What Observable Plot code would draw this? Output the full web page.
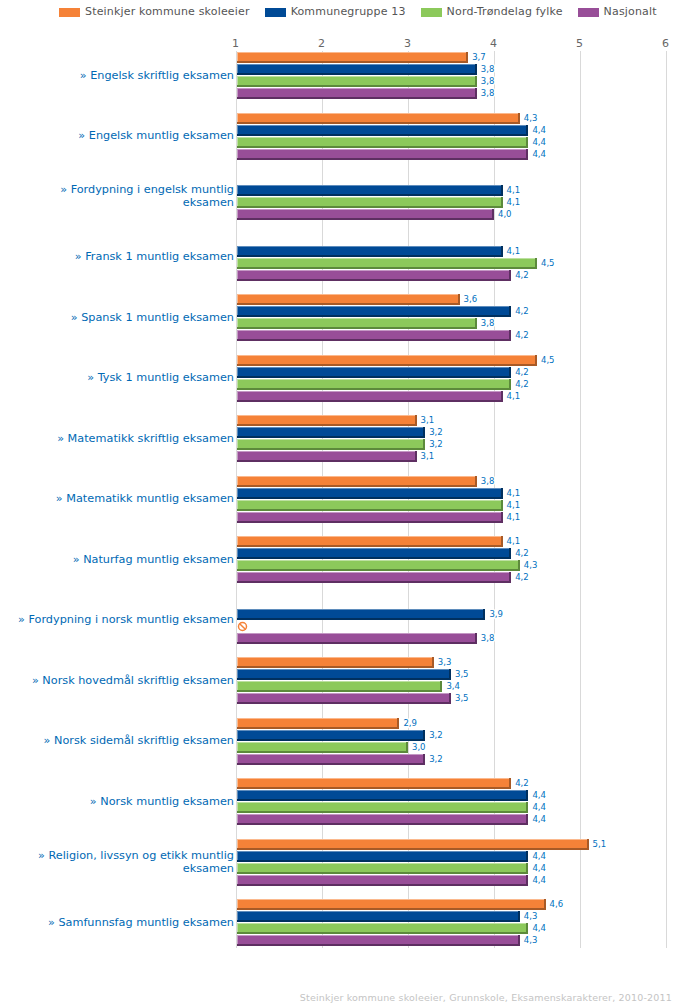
<!DOCTYPE html>
<html>
<head>
<meta charset="utf-8">
<script src="https://cdn.jsdelivr.net/npm/d3@7"></script>
<script src="https://cdn.jsdelivr.net/npm/@observablehq/plot@0.6"></script>
<style>
html,body{margin:0;padding:0;background:#fff;overflow:hidden}
#legend{height:30px;box-sizing:border-box;padding:5px 0 0 59px;display:flex;gap:15px;font:11px "DejaVu Sans",sans-serif;color:#555;line-height:14px;letter-spacing:.17px}
#legend .it{display:flex;align-items:center;gap:5px;white-space:nowrap;height:14px}
#legend i{display:block;width:21px;height:9px}
#cap{position:absolute;right:23px;top:992px;font:9.5px "DejaVu Sans",sans-serif;color:#c4c4c4;letter-spacing:.18px;white-space:nowrap}
svg{display:block}
</style>
</head>
<body>
<div id="legend"></div>
<div id="chart"></div>
<div id="cap"></div>
<script>
const categories = [
  "» Engelsk skriftlig eksamen",
  "» Engelsk muntlig eksamen",
  "» Fordypning i engelsk muntlig\neksamen",
  "» Fransk 1 muntlig eksamen",
  "» Spansk 1 muntlig eksamen",
  "» Tysk 1 muntlig eksamen",
  "» Matematikk skriftlig eksamen",
  "» Matematikk muntlig eksamen",
  "» Naturfag muntlig eksamen",
  "» Fordypning i norsk muntlig eksamen",
  "» Norsk hovedmål skriftlig eksamen",
  "» Norsk sidemål skriftlig eksamen",
  "» Norsk muntlig eksamen",
  "» Religion, livssyn og etikk muntlig\neksamen",
  "» Samfunnsfag muntlig eksamen"
];
const seriesNames = ["Steinkjer kommune skoleeier","Kommunegruppe 13","Nord-Trøndelag fylke","Nasjonalt"];
const steinkjer = [3.7,4.3,null,null,3.6,4.5,3.1,3.8,4.1,null,3.3,2.9,4.2,5.1,4.6];
const kommunegruppe = [3.8,4.4,4.1,4.1,4.2,4.2,3.2,4.1,4.2,3.9,3.5,3.2,4.4,4.4,4.3];
const fylke = [3.8,4.4,4.1,4.5,3.8,4.2,3.2,4.1,4.3,null,3.4,3.0,4.4,4.4,4.4];
const nasjonalt = [3.8,4.4,4.0,4.2,4.2,4.1,3.1,4.1,4.2,3.8,3.5,3.2,4.4,4.4,4.3];
const mainColors = ["#F58238","#004A96","#8CC95B","#984E98"];
const darkColors = ["#A85A26","#00305F","#5C8A3B","#5E2F62"];
const lightColors = ["#FBB98E","#5F8DBD","#BCE0A0","#C498C4"];
const xTicks = [1,2,3,4,5,6];
const noDataCells = [["» Fordypning i norsk muntlig eksamen","Nord-Trøndelag fylke"]];
const captionText = "Steinkjer kommune skoleeier, Grunnskole, Eksamenskarakterer, 2010-2011";

const seriesValues = [steinkjer,kommunegruppe,fylke,nasjonalt];
const rows = categories.flatMap((c,i)=>seriesNames.map((s,j)=>({cat:c,series:s,idx:j,value:seriesValues[j][i]}))).filter(d=>d.value!=null);
const noData = noDataCells.map(([cat,series])=>({cat,series}));
const gridRows = categories.flatMap(c=>xTicks.map(t=>({cat:c,tick:t})));
const lastCat = categories[categories.length-1];

d3.select("#legend").selectAll(".it").data(seriesNames).join("div").attr("class","it")
  .call(s=>s.append("i").style("background",(d,i)=>mainColors[i]))
  .call(s=>s.append("span").text(d=>d));
d3.select("#cap").text(captionText);

const fmt = v=>v.toFixed(1).replace(".",",");
const crisp = {shapeRendering:"crispEdges"};
const slash = {draw(ctx,l){ctx.moveTo(0,0);ctx.lineTo(0,-l);}};

const chart = Plot.plot({
  width:695,height:920,
  marginLeft:236,marginRight:29,marginTop:21,marginBottom:2,
  style:{fontFamily:"DejaVu Sans",background:"#fff"},
  x:{domain:[1,6],label:null},
  fy:{domain:categories,axis:null,paddingInner:12.5/60.5,paddingOuter:1/60.5,round:false,label:null},
  y:{domain:seriesNames,axis:null,padding:0,round:false,label:null},
  marks:[
    Plot.ruleX(gridRows.filter(d=>d.cat!==lastCat),{fy:"cat",x:"tick",stroke:"#d9d9d9",strokeWidth:1,insetTop:-1,insetBottom:-13,...crisp}),
    Plot.ruleX(gridRows.filter(d=>d.cat===lastCat),{fy:"cat",x:"tick",stroke:"#d9d9d9",strokeWidth:1,insetBottom:-1,...crisp}),
    Plot.axisX(xTicks,{anchor:"top",tickSize:0,tickPadding:6,label:null,fontSize:11,fill:"#666",dx:-1}),
    Plot.barX(rows,{fy:"cat",y:"series",x1:()=>1,x2:"value",fill:d=>darkColors[d.idx],insetLeft:1,insetBottom:1,insetTop:0,...crisp}),
    Plot.barX(rows,{fy:"cat",y:"series",x1:()=>1,x2:"value",fill:d=>lightColors[d.idx],insetLeft:1,insetRight:2,insetBottom:3,...crisp}),
    Plot.barX(rows,{fy:"cat",y:"series",x1:()=>1,x2:"value",fill:d=>mainColors[d.idx],insetLeft:2,insetRight:2,insetTop:1,insetBottom:3,...crisp}),
    Plot.text(rows,{fy:"cat",y:"series",x:"value",text:d=>fmt(d.value),dx:3.5,dy:-1,textAnchor:"start",fill:"#0070C0",stroke:"#fff",strokeWidth:3,fontSize:8.5}),
    Plot.text(categories,{fy:d=>d,x:()=>1,frameAnchor:"middle",text:d=>d,textAnchor:"end",dx:-2.5,dy:-2,fill:"#0069B4",fontSize:11.25,lineHeight:1.16}),
    Plot.dot(noData,{fy:"cat",y:"series",x:()=>1,dx:6,dy:-0.5,r:4,stroke:"#F58238",strokeWidth:1.5}),
    Plot.vector(noData,{fy:"cat",y:"series",x:()=>1,dx:6,dy:-0.5,length:8,rotate:-45,anchor:"middle",shape:slash,stroke:"#F58238",strokeWidth:1.5})
  ]
});
document.getElementById("chart").appendChild(chart);
</script>
</body>
</html>
